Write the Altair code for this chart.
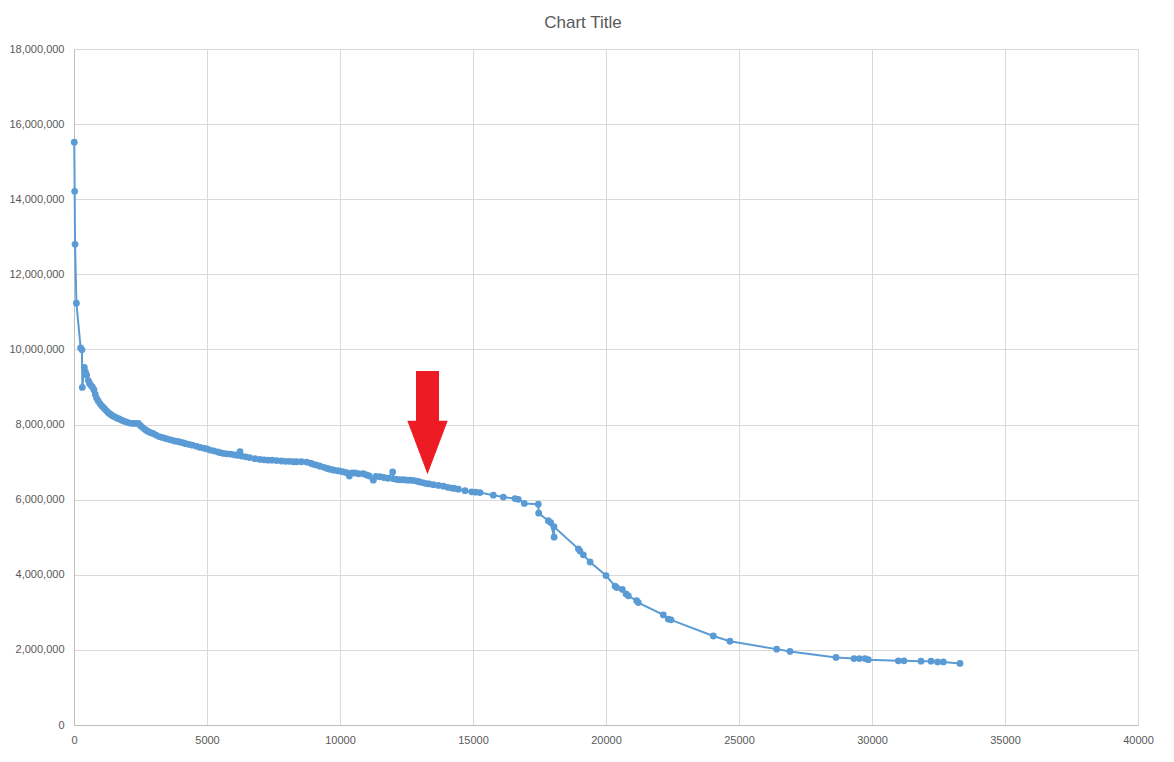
import altair as alt
import pandas as pd

# Series values (x, y), in drawing order
xs = [10, 25, 40, 90, 250, 300, 312, 388, 430, 476, 539, 580, 626, 690, 752, 800, 852, 910, 977,
      1040, 1100, 1165, 1230, 1300, 1360, 1416, 1480, 1550, 1620, 1700, 1780, 1850, 1930, 2000,
      2105, 2200, 2300, 2418, 2500, 2580, 2669, 2750, 2830, 2900, 2982, 3080, 3200, 3300, 3400,
      3484, 3600, 3700, 3800, 3900, 4000, 4110, 4200, 4320, 4450, 4612, 4740, 4880, 5000, 5113,
      5250, 5400, 5500, 5614, 5750, 5900, 6050, 6150, 6241, 6300, 6450, 6600, 6800, 6993, 7150,
      7300, 7450, 7619, 7800, 7950, 8100, 8250, 8371, 8550, 8747, 8900, 9000, 9123, 9250, 9400,
      9520, 9624, 9750, 9900, 10000, 10125, 10250, 10351, 10450, 10564, 10700, 10877, 11000,
      11100, 11253, 11350, 11504, 11650, 11800, 11980, 12000, 12130, 12256, 12400, 12520, 12632,
      12757, 12900, 13000, 13133, 13250, 13350, 13509, 13700, 13885, 14050, 14200, 14300, 14449,
      14699, 14950, 15100, 15263, 15764, 16140, 16578, 16703, 16930, 17455, 17470, 17831, 17920,
      18050, 18045, 18960, 19022, 19147, 19400, 20000, 20338, 20400, 20614, 20752, 20840, 21153,
      21215, 22155, 22340, 22443, 24034, 24660, 26416, 26917, 28647, 29323, 29523, 29737, 29862,
      30990, 31203, 31842, 32218, 32468, 32681, 33308]
ys_m = [15.52, 14.21, 12.80, 11.23, 10.04, 9.99, 8.99, 9.52, 9.40, 9.32, 9.17, 9.10, 9.05, 9.00, 8.92,
        8.80, 8.70, 8.63, 8.56, 8.50, 8.46, 8.41, 8.36, 8.31, 8.28, 8.25, 8.22, 8.20, 8.17, 8.15,
        8.12, 8.10, 8.08, 8.06, 8.04, 8.03, 8.03, 8.03, 7.97, 7.92, 7.87, 7.83, 7.80, 7.78, 7.76,
        7.72, 7.68, 7.66, 7.64, 7.62, 7.60, 7.58, 7.56, 7.55, 7.53, 7.51, 7.49, 7.47, 7.45, 7.42,
        7.39, 7.37, 7.35, 7.32, 7.30, 7.27, 7.25, 7.23, 7.22, 7.21, 7.19, 7.18, 7.28, 7.16, 7.14,
        7.12, 7.09, 7.07, 7.06, 7.05, 7.05, 7.04, 7.03, 7.02, 7.02, 7.01, 7.01, 7.01, 7.00, 6.97,
        6.94, 6.92, 6.89, 6.86, 6.83, 6.81, 6.79, 6.77, 6.76, 6.74, 6.72, 6.63, 6.71, 6.71, 6.69,
        6.69, 6.66, 6.63, 6.52, 6.62, 6.61, 6.59, 6.57, 6.74, 6.56, 6.54, 6.53, 6.53, 6.52, 6.52,
        6.51, 6.49, 6.47, 6.45, 6.43, 6.42, 6.40, 6.38, 6.36, 6.33, 6.31, 6.30, 6.28, 6.24, 6.21,
        6.20, 6.19, 6.12, 6.07, 6.03, 6.01, 5.90, 5.88, 5.64, 5.44, 5.39, 5.00, 5.28, 4.69, 4.63,
        4.53, 4.34, 3.98, 3.70, 3.66, 3.61, 3.49, 3.44, 3.31, 3.26, 2.93, 2.82, 2.80, 2.37, 2.23,
        2.02, 1.96, 1.80, 1.77, 1.77, 1.77, 1.74, 1.71, 1.71, 1.70, 1.70, 1.68, 1.68, 1.64]

x_ticks = [0, 5000, 10000, 15000, 20000, 25000, 30000, 35000, 40000]
y_ticks = [0, 2000000, 4000000, 6000000, 8000000, 10000000, 12000000, 14000000, 16000000, 18000000]

# annotation arrow anchor (data coordinates)
arrow_x = [13290]
arrow_y = [8050000]

df = pd.DataFrame({"idx": list(range(len(xs))), "x": xs, "y": [v * 1_000_000 for v in ys_m]})
arrow_df = pd.DataFrame({"x": arrow_x, "y": arrow_y})

BLUE = "#5B9BD5"
FONT = "Liberation Sans"

x_scale = alt.Scale(domain=[0, 40000], nice=False)
y_scale = alt.Scale(domain=[0, 18000000], nice=False)
x_axis = alt.Axis(values=x_ticks, format="d", title=None, labelFlush=False)
y_axis = alt.Axis(values=y_ticks, format=",.0f", title=None, labelFlush=False)

base = alt.Chart(df).encode(
    x=alt.X("x:Q", scale=x_scale, axis=x_axis),
    y=alt.Y("y:Q", scale=y_scale, axis=y_axis),
    order="idx:Q",
)
line = base.mark_line(color=BLUE, strokeWidth=2)
pts = base.mark_point(filled=True, color=BLUE, size=46, opacity=1)

arrow_path = "M-0.57,-2.56L0.57,-2.56L0.57,-0.1L1,-0.1L0,2.55L-1,-0.1L-0.57,-0.1Z"
arrow = alt.Chart(arrow_df).mark_point(
    shape=arrow_path, size=1632, filled=True, color="#ED1C24", opacity=1, strokeWidth=0
).encode(
    x=alt.X("x:Q", scale=x_scale, axis=x_axis),
    y=alt.Y("y:Q", scale=y_scale, axis=y_axis),
)

chart = alt.layer(line, pts, arrow).properties(
    width=1064, height=676,
    title=alt.TitleParams("Chart Title", fontSize=17, font=FONT, fontWeight="normal",
                          color="#595959", anchor="middle", baseline="bottom", offset=16,
                          dx=-23, dy=22),
    autosize=alt.AutoSizeParams(type="none"),
    padding={"left": 66, "top": 41, "right": 20, "bottom": 30},
    background="white",
).configure_view(strokeWidth=0).configure_axis(
    gridColor="#D9D9D9", gridWidth=1, domainColor="#BFBFBF", ticks=False,
    labelFont=FONT, labelFontSize=11, labelColor="#595959", labelPadding=10,
).configure_axisX(labelPadding=9)

chart.save("out.html", embed_options={"renderer": "svg", "actions": False})
